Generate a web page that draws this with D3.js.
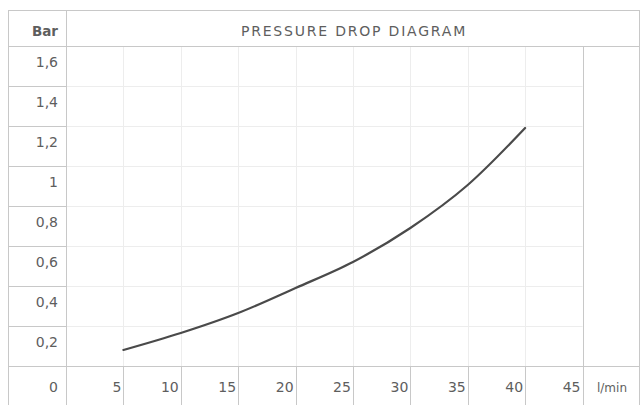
<!DOCTYPE html>
<html>
<head>
<meta charset="utf-8">
<script src="https://cdn.jsdelivr.net/npm/d3@7"></script>
<style>
  html, body { margin: 0; padding: 0; background: #fff; }
  svg text { font-family: "DejaVu Sans", Lato, sans-serif; fill: #5e5e5e; }
</style>
</head>
<body>
<svg id="chart" width="642" height="405"></svg>
<script>
// flow (l/min) vs pressure drop (bar)
const flowValues = [5, 10, 15, 20, 25, 30, 35, 40];
const dropValues = [0.08, 0.165, 0.265, 0.39, 0.52, 0.69, 0.905, 1.19];
const xTicks = [5, 10, 15, 20, 25, 30, 35, 40, 45];
const yTicks = [0.2, 0.4, 0.6, 0.8, 1, 1.2, 1.4, 1.6];
const title = "PRESSURE DROP DIAGRAM";

const svg = d3.select("#chart");

const box = { left: 8, top: 10, right: 639, bottom: 406 };
const headerBottom = 46;
const labelCol = 66;

const x = d3.scaleLinear().domain([0, 45]).range([labelCol, 582.5]);
const y = d3.scaleLinear().domain([0, 1.6]).range([366, headerBottom]);
const fmt = (v) => String(v).replace(".", ",");

// faint plot grid
const grid = svg.append("g").attr("stroke", "#ededed").attr("stroke-width", 1);
grid.selectAll("line.h")
  .data(yTicks.slice(0, -1))
  .join("line")
  .attr("x1", labelCol).attr("x2", x(45))
  .attr("y1", (d) => Math.round(y(d)) + 0.5).attr("y2", (d) => Math.round(y(d)) + 0.5);
grid.selectAll("line.v")
  .data(xTicks)
  .join("line")
  .attr("x1", (d) => Math.round(x(d)) + 0.5).attr("x2", (d) => Math.round(x(d)) + 0.5)
  .attr("y1", headerBottom).attr("y2", y(0));

// table frame
const frame = svg.append("g").attr("stroke", "#c8c8c8").attr("stroke-width", 1).attr("fill", "none");
frame.append("rect")
  .attr("x", box.left + 0.5).attr("y", box.top + 0.5)
  .attr("width", box.right - box.left).attr("height", box.bottom - box.top);
frame.append("line")
  .attr("x1", labelCol + 0.5).attr("x2", labelCol + 0.5)
  .attr("y1", box.top).attr("y2", box.bottom);
frame.append("line")
  .attr("x1", box.left).attr("x2", box.right)
  .attr("y1", headerBottom + 0.5).attr("y2", headerBottom + 0.5);
frame.append("line")
  .attr("x1", box.left).attr("x2", box.right)
  .attr("y1", Math.round(y(0)) + 0.5).attr("y2", Math.round(y(0)) + 0.5);
// row separators in the label column
frame.selectAll("line.row")
  .data(yTicks.slice(0, -1))
  .join("line")
  .attr("x1", box.left).attr("x2", labelCol)
  .attr("y1", (d) => Math.round(y(d)) + 0.5).attr("y2", (d) => Math.round(y(d)) + 0.5);
// column separators in the bottom row
frame.selectAll("line.col")
  .data(xTicks)
  .join("line")
  .attr("x1", (d) => Math.round(x(d)) + 0.5).attr("x2", (d) => Math.round(x(d)) + 0.5)
  .attr("y1", (d) => (d === 45 ? headerBottom : y(0))).attr("y2", box.bottom);

// header
svg.append("text")
  .attr("x", 58).attr("y", 36)
  .attr("text-anchor", "end")
  .attr("font-size", 13.5).attr("font-weight", "bold")
  .text("Bar");
svg.append("text")
  .attr("x", 354).attr("y", 36)
  .attr("text-anchor", "middle")
  .attr("font-size", 14).attr("letter-spacing", 1.8)
  .text(title);

// y labels: each one sits just below its line
svg.append("g").selectAll("text")
  .data([0].concat(yTicks))
  .join("text")
  .attr("x", 58)
  .attr("y", (d) => y(d) + (d === 0 ? 26 : 21))
  .attr("text-anchor", "end")
  .attr("font-size", 14)
  .text(fmt);

// x labels
svg.append("g").selectAll("text")
  .data(xTicks)
  .join("text")
  .attr("x", (d) => x(d) - 2)
  .attr("y", y(0) + 26)
  .attr("text-anchor", "end")
  .attr("font-size", 14)
  .text((d) => d);
svg.append("text")
  .attr("x", 612).attr("y", y(0) + 26)
  .attr("text-anchor", "middle")
  .attr("font-size", 12)
  .text("l/min");

// curve
const line = d3.line()
  .x((d, i) => x(flowValues[i]))
  .y((d) => y(d))
  .curve(d3.curveMonotoneX);
svg.append("path")
  .datum(dropValues)
  .attr("fill", "none")
  .attr("stroke", "#4a4a4a")
  .attr("stroke-width", 2.2)
  .attr("stroke-linecap", "round")
  .attr("d", line);
</script>
</body>
</html>
